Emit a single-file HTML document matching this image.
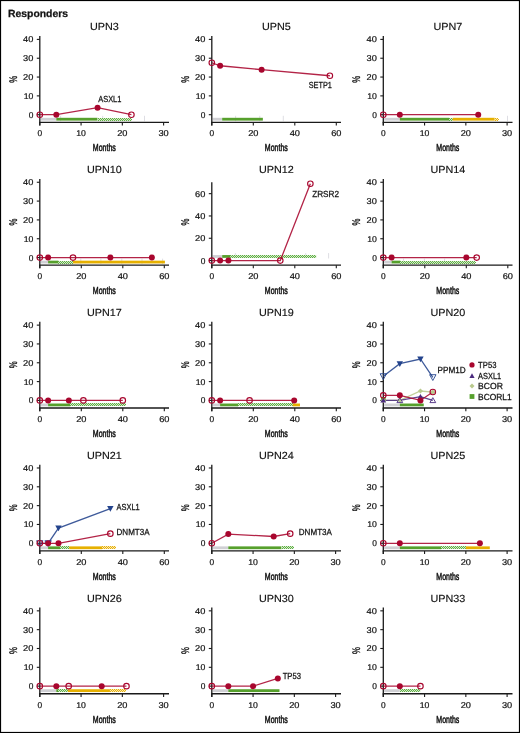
<!DOCTYPE html>
<html><head><meta charset="utf-8"><style>
html,body{margin:0;padding:0;background:#fff;}
body{width:520px;height:733px;overflow:hidden;}
svg{display:block;will-change:transform;}
text{font-family:"Liberation Sans",sans-serif;fill:#111;stroke:#111;stroke-width:0.25px;text-rendering:geometricPrecision;}
.t{font-size:10.3px;stroke-width:0.15px;}
.n{font-size:8.4px;stroke-width:0.2px;}
.l{font-size:8.8px;}
.m{font-size:10.3px;stroke-width:0.5px;}
.pct{font-size:11px;stroke-width:0.4px;}
.h{font-size:10.4px;font-weight:bold;}
</style></head><body>
<svg width="520" height="733" viewBox="0 0 520 733">
<defs>
<pattern id="hg" patternUnits="userSpaceOnUse" width="2.1" height="3" y="0.2">
<rect width="2.1" height="3" fill="#eef7ea"/>
<path d="M0,0 L2.1,3 M2.1,0 L0,3" stroke="#62b04a" stroke-width="0.75" fill="none"/>
</pattern>
<pattern id="hy" patternUnits="userSpaceOnUse" width="2.1" height="3" y="0.2">
<rect width="2.1" height="3" fill="#fdf6e0"/>
<path d="M0,0 L2.1,3 M2.1,0 L0,3" stroke="#e6b000" stroke-width="0.75" fill="none"/>
</pattern>
</defs>
<rect x="0.5" y="0.5" width="519" height="732" fill="#fff" stroke="#000" stroke-width="1.2"/>
<text x="8" y="16.8" class="h">Responders</text>
<text x="104.4" y="30.3" class="t" text-anchor="middle" textLength="28.81" lengthAdjust="spacingAndGlyphs">UPN3</text>
<text transform="translate(16.8,79.2) rotate(-90)" class="pct" text-anchor="middle" textLength="6.9" lengthAdjust="spacingAndGlyphs">%</text>
<text x="104.3" y="151.4" class="m" text-anchor="middle" textLength="23" lengthAdjust="spacingAndGlyphs">Months</text>
<line x1="36.8" y1="114.7" x2="39.8" y2="114.7" stroke="#1a1a1a" stroke-width="1.1"/>
<text x="33.4" y="117.7" class="n" text-anchor="end">0</text>
<line x1="36.8" y1="95.88" x2="39.8" y2="95.88" stroke="#1a1a1a" stroke-width="1.1"/>
<text x="33.4" y="98.88" class="n" text-anchor="end" textLength="9.7" lengthAdjust="spacingAndGlyphs">10</text>
<line x1="36.8" y1="77.05" x2="39.8" y2="77.05" stroke="#1a1a1a" stroke-width="1.1"/>
<text x="33.4" y="80.05" class="n" text-anchor="end" textLength="10.3" lengthAdjust="spacingAndGlyphs">20</text>
<line x1="36.8" y1="58.23" x2="39.8" y2="58.23" stroke="#1a1a1a" stroke-width="1.1"/>
<text x="33.4" y="61.23" class="n" text-anchor="end" textLength="10.3" lengthAdjust="spacingAndGlyphs">30</text>
<line x1="36.8" y1="39.4" x2="39.8" y2="39.4" stroke="#1a1a1a" stroke-width="1.1"/>
<text x="33.4" y="42.4" class="n" text-anchor="end" textLength="10.3" lengthAdjust="spacingAndGlyphs">40</text>
<line x1="39.8" y1="122.3" x2="39.8" y2="125.5" stroke="#1a1a1a" stroke-width="1.1"/>
<text x="39.8" y="136.4" class="n" text-anchor="middle">0</text>
<line x1="81.07" y1="122.3" x2="81.07" y2="125.5" stroke="#1a1a1a" stroke-width="1.1"/>
<text x="81.07" y="136.4" class="n" text-anchor="middle" textLength="9.7" lengthAdjust="spacingAndGlyphs">10</text>
<line x1="122.34" y1="122.3" x2="122.34" y2="125.5" stroke="#1a1a1a" stroke-width="1.1"/>
<text x="122.34" y="136.4" class="n" text-anchor="middle" textLength="10.3" lengthAdjust="spacingAndGlyphs">20</text>
<line x1="163.61" y1="122.3" x2="163.61" y2="125.5" stroke="#1a1a1a" stroke-width="1.1"/>
<text x="163.61" y="136.4" class="n" text-anchor="middle" textLength="10.3" lengthAdjust="spacingAndGlyphs">30</text>
<line x1="60.6" y1="115.8" x2="60.6" y2="121.2" stroke="#d0d0d8" stroke-width="0.7"/>
<line x1="102.7" y1="115.8" x2="102.7" y2="121.2" stroke="#d0d0d8" stroke-width="0.7"/>
<line x1="144.5" y1="115.8" x2="144.5" y2="121.2" stroke="#d0d0d8" stroke-width="0.7"/>
<rect x="40.7" y="117.8" width="15.61" height="2.8" fill="#d0d0d4"/>
<rect x="56.31" y="117.8" width="41.27" height="2.8" fill="#56a02c"/>
<rect x="97.58" y="118" width="33.84" height="3" fill="#d4ebc9"/>
<path d="M98,118h1v1h-1zM99,119h1v1h-1zM98,120h1v1h-1zM100,118h1v1h-1zM101,119h1v1h-1zM100,120h1v1h-1zM102,118h1v1h-1zM103,119h1v1h-1zM102,120h1v1h-1zM104,118h1v1h-1zM105,119h1v1h-1zM104,120h1v1h-1zM106,118h1v1h-1zM107,119h1v1h-1zM106,120h1v1h-1zM108,118h1v1h-1zM109,119h1v1h-1zM108,120h1v1h-1zM110,118h1v1h-1zM111,119h1v1h-1zM110,120h1v1h-1zM112,118h1v1h-1zM113,119h1v1h-1zM112,120h1v1h-1zM114,118h1v1h-1zM115,119h1v1h-1zM114,120h1v1h-1zM116,118h1v1h-1zM117,119h1v1h-1zM116,120h1v1h-1zM118,118h1v1h-1zM119,119h1v1h-1zM118,120h1v1h-1zM120,118h1v1h-1zM121,119h1v1h-1zM120,120h1v1h-1zM122,118h1v1h-1zM123,119h1v1h-1zM122,120h1v1h-1zM124,118h1v1h-1zM125,119h1v1h-1zM124,120h1v1h-1zM126,118h1v1h-1zM127,119h1v1h-1zM126,120h1v1h-1zM128,118h1v1h-1zM129,119h1v1h-1zM128,120h1v1h-1zM130,118h1v1h-1zM131,119h1v1h-1zM130,120h1v1h-1z" fill="#5fae45"/>
<line x1="39.8" y1="36.1" x2="39.8" y2="125.5" stroke="#1a1a1a" stroke-width="1.3"/>
<line x1="39.2" y1="122.3" x2="169" y2="122.3" stroke="#1a1a1a" stroke-width="1.3"/>
<polyline points="39.8,114.7 56.31,114.7 97.58,107.73 131.42,114.7" fill="none" stroke="#a8062e" stroke-width="1.3" opacity="0.88"/>
<circle cx="39.8" cy="114.7" r="2.75" fill="none" stroke="#a8062e" stroke-width="1.15"/>
<circle cx="56.31" cy="114.7" r="3.0" fill="#a8062e"/>
<circle cx="97.58" cy="107.73" r="3.0" fill="#a8062e"/>
<circle cx="131.42" cy="114.7" r="2.75" fill="none" stroke="#a8062e" stroke-width="1.15"/>
<text x="109.8" y="101.6" class="l" text-anchor="middle" textLength="23.15" lengthAdjust="spacingAndGlyphs">ASXL1</text>
<text x="276.4" y="30.3" class="t" text-anchor="middle" textLength="28.81" lengthAdjust="spacingAndGlyphs">UPN5</text>
<text transform="translate(188.8,79.2) rotate(-90)" class="pct" text-anchor="middle" textLength="6.9" lengthAdjust="spacingAndGlyphs">%</text>
<text x="276.3" y="151.4" class="m" text-anchor="middle" textLength="23" lengthAdjust="spacingAndGlyphs">Months</text>
<line x1="208.8" y1="114.7" x2="211.8" y2="114.7" stroke="#1a1a1a" stroke-width="1.1"/>
<text x="205.4" y="117.7" class="n" text-anchor="end">0</text>
<line x1="208.8" y1="95.88" x2="211.8" y2="95.88" stroke="#1a1a1a" stroke-width="1.1"/>
<text x="205.4" y="98.88" class="n" text-anchor="end" textLength="9.7" lengthAdjust="spacingAndGlyphs">10</text>
<line x1="208.8" y1="77.05" x2="211.8" y2="77.05" stroke="#1a1a1a" stroke-width="1.1"/>
<text x="205.4" y="80.05" class="n" text-anchor="end" textLength="10.3" lengthAdjust="spacingAndGlyphs">20</text>
<line x1="208.8" y1="58.23" x2="211.8" y2="58.23" stroke="#1a1a1a" stroke-width="1.1"/>
<text x="205.4" y="61.23" class="n" text-anchor="end" textLength="10.3" lengthAdjust="spacingAndGlyphs">30</text>
<line x1="208.8" y1="39.4" x2="211.8" y2="39.4" stroke="#1a1a1a" stroke-width="1.1"/>
<text x="205.4" y="42.4" class="n" text-anchor="end" textLength="10.3" lengthAdjust="spacingAndGlyphs">40</text>
<line x1="211.8" y1="122.3" x2="211.8" y2="125.5" stroke="#1a1a1a" stroke-width="1.1"/>
<text x="211.8" y="136.4" class="n" text-anchor="middle">0</text>
<line x1="253.3" y1="122.3" x2="253.3" y2="125.5" stroke="#1a1a1a" stroke-width="1.1"/>
<text x="253.3" y="136.4" class="n" text-anchor="middle" textLength="10.3" lengthAdjust="spacingAndGlyphs">20</text>
<line x1="294.8" y1="122.3" x2="294.8" y2="125.5" stroke="#1a1a1a" stroke-width="1.1"/>
<text x="294.8" y="136.4" class="n" text-anchor="middle" textLength="10.3" lengthAdjust="spacingAndGlyphs">40</text>
<line x1="336.3" y1="122.3" x2="336.3" y2="125.5" stroke="#1a1a1a" stroke-width="1.1"/>
<text x="336.3" y="136.4" class="n" text-anchor="middle" textLength="10.3" lengthAdjust="spacingAndGlyphs">60</text>
<line x1="235.6" y1="115.8" x2="235.6" y2="121.2" stroke="#d0d0d8" stroke-width="0.7"/>
<line x1="259.8" y1="115.8" x2="259.8" y2="121.2" stroke="#d0d0d8" stroke-width="0.7"/>
<line x1="283.3" y1="115.8" x2="283.3" y2="121.2" stroke="#d0d0d8" stroke-width="0.7"/>
<rect x="212.7" y="117.8" width="9.47" height="2.8" fill="#d0d0d4"/>
<rect x="222.18" y="117.8" width="40.67" height="2.8" fill="#56a02c"/>
<line x1="211.8" y1="36.1" x2="211.8" y2="125.5" stroke="#1a1a1a" stroke-width="1.3"/>
<line x1="211.2" y1="122.3" x2="341" y2="122.3" stroke="#1a1a1a" stroke-width="1.3"/>
<polyline points="211.8,62.74 220.1,65.75 261.6,69.71 329.87,75.73" fill="none" stroke="#a8062e" stroke-width="1.3" opacity="0.88"/>
<circle cx="211.8" cy="62.74" r="2.75" fill="none" stroke="#a8062e" stroke-width="1.15"/>
<circle cx="220.1" cy="65.75" r="3.0" fill="#a8062e"/>
<circle cx="261.6" cy="69.71" r="3.0" fill="#a8062e"/>
<circle cx="329.87" cy="75.73" r="2.75" fill="none" stroke="#a8062e" stroke-width="1.15"/>
<text x="320.3" y="87.8" class="l" text-anchor="middle" textLength="23.14" lengthAdjust="spacingAndGlyphs">SETP1</text>
<text x="447.9" y="30.3" class="t" text-anchor="middle" textLength="28.81" lengthAdjust="spacingAndGlyphs">UPN7</text>
<text transform="translate(360.3,79.2) rotate(-90)" class="pct" text-anchor="middle" textLength="6.9" lengthAdjust="spacingAndGlyphs">%</text>
<text x="447.8" y="151.4" class="m" text-anchor="middle" textLength="23" lengthAdjust="spacingAndGlyphs">Months</text>
<line x1="380.3" y1="114.7" x2="383.3" y2="114.7" stroke="#1a1a1a" stroke-width="1.1"/>
<text x="376.9" y="117.7" class="n" text-anchor="end">0</text>
<line x1="380.3" y1="95.88" x2="383.3" y2="95.88" stroke="#1a1a1a" stroke-width="1.1"/>
<text x="376.9" y="98.88" class="n" text-anchor="end" textLength="9.7" lengthAdjust="spacingAndGlyphs">10</text>
<line x1="380.3" y1="77.05" x2="383.3" y2="77.05" stroke="#1a1a1a" stroke-width="1.1"/>
<text x="376.9" y="80.05" class="n" text-anchor="end" textLength="10.3" lengthAdjust="spacingAndGlyphs">20</text>
<line x1="380.3" y1="58.23" x2="383.3" y2="58.23" stroke="#1a1a1a" stroke-width="1.1"/>
<text x="376.9" y="61.23" class="n" text-anchor="end" textLength="10.3" lengthAdjust="spacingAndGlyphs">30</text>
<line x1="380.3" y1="39.4" x2="383.3" y2="39.4" stroke="#1a1a1a" stroke-width="1.1"/>
<text x="376.9" y="42.4" class="n" text-anchor="end" textLength="10.3" lengthAdjust="spacingAndGlyphs">40</text>
<line x1="383.3" y1="122.3" x2="383.3" y2="125.5" stroke="#1a1a1a" stroke-width="1.1"/>
<text x="383.3" y="136.4" class="n" text-anchor="middle">0</text>
<line x1="424.57" y1="122.3" x2="424.57" y2="125.5" stroke="#1a1a1a" stroke-width="1.1"/>
<text x="424.57" y="136.4" class="n" text-anchor="middle" textLength="9.7" lengthAdjust="spacingAndGlyphs">10</text>
<line x1="465.84" y1="122.3" x2="465.84" y2="125.5" stroke="#1a1a1a" stroke-width="1.1"/>
<text x="465.84" y="136.4" class="n" text-anchor="middle" textLength="10.3" lengthAdjust="spacingAndGlyphs">20</text>
<line x1="507.11" y1="122.3" x2="507.11" y2="125.5" stroke="#1a1a1a" stroke-width="1.1"/>
<text x="507.11" y="136.4" class="n" text-anchor="middle" textLength="10.3" lengthAdjust="spacingAndGlyphs">30</text>
<line x1="507.5" y1="115.8" x2="507.5" y2="121.2" stroke="#d0d0d8" stroke-width="0.7"/>
<rect x="384.2" y="117.8" width="15.61" height="2.8" fill="#d0d0d4"/>
<rect x="399.81" y="117.8" width="49.52" height="2.8" fill="#56a02c"/>
<rect x="449.33" y="118" width="3.3" height="3" fill="#d4ebc9"/>
<path d="M449,118h1v1h-1zM450,119h1v1h-1zM449,120h1v1h-1zM451,118h1v1h-1zM452,119h1v1h-1zM451,120h1v1h-1z" fill="#5fae45"/>
<rect x="452.63" y="117.8" width="42.1" height="2.8" fill="#e6b000"/>
<rect x="494.73" y="118" width="2.89" height="3" fill="#f8e7b0"/>
<path d="M495,118h1v1h-1zM496,119h1v1h-1zM495,120h1v1h-1zM497,118h1v1h-1zM498,119h1v1h-1zM497,120h1v1h-1z" fill="#e8b10a"/>
<line x1="383.3" y1="36.1" x2="383.3" y2="125.5" stroke="#1a1a1a" stroke-width="1.3"/>
<line x1="382.7" y1="122.3" x2="512.5" y2="122.3" stroke="#1a1a1a" stroke-width="1.3"/>
<polyline points="383.3,114.7 399.81,114.7 478.22,114.7" fill="none" stroke="#a8062e" stroke-width="1.3" opacity="0.88"/>
<circle cx="383.3" cy="114.7" r="2.75" fill="none" stroke="#a8062e" stroke-width="1.15"/>
<circle cx="399.81" cy="114.7" r="3.0" fill="#a8062e"/>
<circle cx="478.22" cy="114.7" r="3.0" fill="#a8062e"/>
<text x="104.4" y="173.16" class="t" text-anchor="middle" textLength="34.82" lengthAdjust="spacingAndGlyphs">UPN10</text>
<text transform="translate(16.8,222.06) rotate(-90)" class="pct" text-anchor="middle" textLength="6.9" lengthAdjust="spacingAndGlyphs">%</text>
<text x="104.3" y="294.26" class="m" text-anchor="middle" textLength="23" lengthAdjust="spacingAndGlyphs">Months</text>
<line x1="36.8" y1="257.56" x2="39.8" y2="257.56" stroke="#1a1a1a" stroke-width="1.1"/>
<text x="33.4" y="260.56" class="n" text-anchor="end">0</text>
<line x1="36.8" y1="238.74" x2="39.8" y2="238.74" stroke="#1a1a1a" stroke-width="1.1"/>
<text x="33.4" y="241.74" class="n" text-anchor="end" textLength="9.7" lengthAdjust="spacingAndGlyphs">10</text>
<line x1="36.8" y1="219.91" x2="39.8" y2="219.91" stroke="#1a1a1a" stroke-width="1.1"/>
<text x="33.4" y="222.91" class="n" text-anchor="end" textLength="10.3" lengthAdjust="spacingAndGlyphs">20</text>
<line x1="36.8" y1="201.09" x2="39.8" y2="201.09" stroke="#1a1a1a" stroke-width="1.1"/>
<text x="33.4" y="204.09" class="n" text-anchor="end" textLength="10.3" lengthAdjust="spacingAndGlyphs">30</text>
<line x1="36.8" y1="182.26" x2="39.8" y2="182.26" stroke="#1a1a1a" stroke-width="1.1"/>
<text x="33.4" y="185.26" class="n" text-anchor="end" textLength="10.3" lengthAdjust="spacingAndGlyphs">40</text>
<line x1="39.8" y1="265.16" x2="39.8" y2="268.36" stroke="#1a1a1a" stroke-width="1.1"/>
<text x="39.8" y="279.26" class="n" text-anchor="middle">0</text>
<line x1="81.3" y1="265.16" x2="81.3" y2="268.36" stroke="#1a1a1a" stroke-width="1.1"/>
<text x="81.3" y="279.26" class="n" text-anchor="middle" textLength="10.3" lengthAdjust="spacingAndGlyphs">20</text>
<line x1="122.8" y1="265.16" x2="122.8" y2="268.36" stroke="#1a1a1a" stroke-width="1.1"/>
<text x="122.8" y="279.26" class="n" text-anchor="middle" textLength="10.3" lengthAdjust="spacingAndGlyphs">40</text>
<line x1="164.3" y1="265.16" x2="164.3" y2="268.36" stroke="#1a1a1a" stroke-width="1.1"/>
<text x="164.3" y="279.26" class="n" text-anchor="middle" textLength="10.3" lengthAdjust="spacingAndGlyphs">60</text>
<line x1="80.8" y1="258.66" x2="80.8" y2="264.06" stroke="#d0d0d8" stroke-width="0.7"/>
<line x1="100.9" y1="258.66" x2="100.9" y2="264.06" stroke="#d0d0d8" stroke-width="0.7"/>
<line x1="121.8" y1="258.66" x2="121.8" y2="264.06" stroke="#d0d0d8" stroke-width="0.7"/>
<line x1="142" y1="258.66" x2="142" y2="264.06" stroke="#d0d0d8" stroke-width="0.7"/>
<line x1="162.6" y1="258.66" x2="162.6" y2="264.06" stroke="#d0d0d8" stroke-width="0.7"/>
<rect x="40.7" y="260.66" width="7.4" height="2.8" fill="#d0d0d4"/>
<rect x="48.1" y="260.66" width="10.38" height="2.8" fill="#56a02c"/>
<rect x="58.47" y="261" width="14.53" height="3" fill="#d4ebc9"/>
<path d="M58,261h1v1h-1zM59,262h1v1h-1zM58,263h1v1h-1zM60,261h1v1h-1zM61,262h1v1h-1zM60,263h1v1h-1zM62,261h1v1h-1zM63,262h1v1h-1zM62,263h1v1h-1zM64,261h1v1h-1zM65,262h1v1h-1zM64,263h1v1h-1zM66,261h1v1h-1zM67,262h1v1h-1zM66,263h1v1h-1zM68,261h1v1h-1zM69,262h1v1h-1zM68,263h1v1h-1zM70,261h1v1h-1zM71,262h1v1h-1zM70,263h1v1h-1zM72,261h1v1h-1zM73,262h1v1h-1zM72,263h1v1h-1z" fill="#5fae45"/>
<rect x="73" y="260.66" width="91.92" height="2.8" fill="#e6b000"/>
<line x1="39.8" y1="178.96" x2="39.8" y2="268.36" stroke="#1a1a1a" stroke-width="1.3"/>
<line x1="39.2" y1="265.16" x2="169" y2="265.16" stroke="#1a1a1a" stroke-width="1.3"/>
<polyline points="39.8,257.56 48.1,257.56 73,257.56 110.35,257.56 151.85,257.56" fill="none" stroke="#a8062e" stroke-width="1.3" opacity="0.88"/>
<circle cx="39.8" cy="257.56" r="2.75" fill="none" stroke="#a8062e" stroke-width="1.15"/>
<circle cx="48.1" cy="257.56" r="3.0" fill="#a8062e"/>
<circle cx="73" cy="257.56" r="2.75" fill="none" stroke="#a8062e" stroke-width="1.15"/>
<circle cx="110.35" cy="257.56" r="3.0" fill="#a8062e"/>
<circle cx="151.85" cy="257.56" r="3.0" fill="#a8062e"/>
<text x="276.4" y="173.16" class="t" text-anchor="middle" textLength="34.82" lengthAdjust="spacingAndGlyphs">UPN12</text>
<text transform="translate(188.8,222.06) rotate(-90)" class="pct" text-anchor="middle" textLength="6.9" lengthAdjust="spacingAndGlyphs">%</text>
<text x="276.3" y="294.26" class="m" text-anchor="middle" textLength="23" lengthAdjust="spacingAndGlyphs">Months</text>
<line x1="208.8" y1="260.56" x2="211.8" y2="260.56" stroke="#1a1a1a" stroke-width="1.1"/>
<text x="205.4" y="263.56" class="n" text-anchor="end">0</text>
<line x1="208.8" y1="238.26" x2="211.8" y2="238.26" stroke="#1a1a1a" stroke-width="1.1"/>
<text x="205.4" y="241.26" class="n" text-anchor="end" textLength="10.3" lengthAdjust="spacingAndGlyphs">20</text>
<line x1="208.8" y1="215.96" x2="211.8" y2="215.96" stroke="#1a1a1a" stroke-width="1.1"/>
<text x="205.4" y="218.96" class="n" text-anchor="end" textLength="10.3" lengthAdjust="spacingAndGlyphs">40</text>
<line x1="208.8" y1="193.66" x2="211.8" y2="193.66" stroke="#1a1a1a" stroke-width="1.1"/>
<text x="205.4" y="196.66" class="n" text-anchor="end" textLength="10.3" lengthAdjust="spacingAndGlyphs">60</text>
<line x1="211.8" y1="265.16" x2="211.8" y2="268.36" stroke="#1a1a1a" stroke-width="1.1"/>
<text x="211.8" y="279.26" class="n" text-anchor="middle">0</text>
<line x1="253.3" y1="265.16" x2="253.3" y2="268.36" stroke="#1a1a1a" stroke-width="1.1"/>
<text x="253.3" y="279.26" class="n" text-anchor="middle" textLength="10.3" lengthAdjust="spacingAndGlyphs">20</text>
<line x1="294.8" y1="265.16" x2="294.8" y2="268.36" stroke="#1a1a1a" stroke-width="1.1"/>
<text x="294.8" y="279.26" class="n" text-anchor="middle" textLength="10.3" lengthAdjust="spacingAndGlyphs">40</text>
<line x1="336.3" y1="265.16" x2="336.3" y2="268.36" stroke="#1a1a1a" stroke-width="1.1"/>
<text x="336.3" y="279.26" class="n" text-anchor="middle" textLength="10.3" lengthAdjust="spacingAndGlyphs">60</text>
<line x1="235.4" y1="253.06" x2="235.4" y2="258.46" stroke="#d0d0d8" stroke-width="0.7"/>
<line x1="305.7" y1="253.06" x2="305.7" y2="258.46" stroke="#d0d0d8" stroke-width="0.7"/>
<line x1="328.6" y1="253.06" x2="328.6" y2="258.46" stroke="#d0d0d8" stroke-width="0.7"/>
<rect x="212.7" y="255.06" width="9.47" height="2.8" fill="#d0d0d4"/>
<rect x="222.18" y="255.06" width="8.3" height="2.8" fill="#56a02c"/>
<rect x="230.48" y="255" width="85.9" height="3" fill="#d4ebc9"/>
<path d="M230,255h1v1h-1zM231,256h1v1h-1zM230,257h1v1h-1zM232,255h1v1h-1zM233,256h1v1h-1zM232,257h1v1h-1zM234,255h1v1h-1zM235,256h1v1h-1zM234,257h1v1h-1zM236,255h1v1h-1zM237,256h1v1h-1zM236,257h1v1h-1zM238,255h1v1h-1zM239,256h1v1h-1zM238,257h1v1h-1zM240,255h1v1h-1zM241,256h1v1h-1zM240,257h1v1h-1zM242,255h1v1h-1zM243,256h1v1h-1zM242,257h1v1h-1zM244,255h1v1h-1zM245,256h1v1h-1zM244,257h1v1h-1zM246,255h1v1h-1zM247,256h1v1h-1zM246,257h1v1h-1zM248,255h1v1h-1zM249,256h1v1h-1zM248,257h1v1h-1zM250,255h1v1h-1zM251,256h1v1h-1zM250,257h1v1h-1zM252,255h1v1h-1zM253,256h1v1h-1zM252,257h1v1h-1zM254,255h1v1h-1zM255,256h1v1h-1zM254,257h1v1h-1zM256,255h1v1h-1zM257,256h1v1h-1zM256,257h1v1h-1zM258,255h1v1h-1zM259,256h1v1h-1zM258,257h1v1h-1zM260,255h1v1h-1zM261,256h1v1h-1zM260,257h1v1h-1zM262,255h1v1h-1zM263,256h1v1h-1zM262,257h1v1h-1zM264,255h1v1h-1zM265,256h1v1h-1zM264,257h1v1h-1zM266,255h1v1h-1zM267,256h1v1h-1zM266,257h1v1h-1zM268,255h1v1h-1zM269,256h1v1h-1zM268,257h1v1h-1zM270,255h1v1h-1zM271,256h1v1h-1zM270,257h1v1h-1zM272,255h1v1h-1zM273,256h1v1h-1zM272,257h1v1h-1zM274,255h1v1h-1zM275,256h1v1h-1zM274,257h1v1h-1zM276,255h1v1h-1zM277,256h1v1h-1zM276,257h1v1h-1zM278,255h1v1h-1zM279,256h1v1h-1zM278,257h1v1h-1zM280,255h1v1h-1zM281,256h1v1h-1zM280,257h1v1h-1zM282,255h1v1h-1zM283,256h1v1h-1zM282,257h1v1h-1zM284,255h1v1h-1zM285,256h1v1h-1zM284,257h1v1h-1zM286,255h1v1h-1zM287,256h1v1h-1zM286,257h1v1h-1zM288,255h1v1h-1zM289,256h1v1h-1zM288,257h1v1h-1zM290,255h1v1h-1zM291,256h1v1h-1zM290,257h1v1h-1zM292,255h1v1h-1zM293,256h1v1h-1zM292,257h1v1h-1zM294,255h1v1h-1zM295,256h1v1h-1zM294,257h1v1h-1zM296,255h1v1h-1zM297,256h1v1h-1zM296,257h1v1h-1zM298,255h1v1h-1zM299,256h1v1h-1zM298,257h1v1h-1zM300,255h1v1h-1zM301,256h1v1h-1zM300,257h1v1h-1zM302,255h1v1h-1zM303,256h1v1h-1zM302,257h1v1h-1zM304,255h1v1h-1zM305,256h1v1h-1zM304,257h1v1h-1zM306,255h1v1h-1zM307,256h1v1h-1zM306,257h1v1h-1zM308,255h1v1h-1zM309,256h1v1h-1zM308,257h1v1h-1zM310,255h1v1h-1zM311,256h1v1h-1zM310,257h1v1h-1zM312,255h1v1h-1zM313,256h1v1h-1zM312,257h1v1h-1zM314,255h1v1h-1zM315,256h1v1h-1zM314,257h1v1h-1z" fill="#5fae45"/>
<line x1="211.8" y1="182.36" x2="211.8" y2="268.36" stroke="#1a1a1a" stroke-width="1.3"/>
<line x1="211.2" y1="265.16" x2="341" y2="265.16" stroke="#1a1a1a" stroke-width="1.3"/>
<polyline points="211.8,260.56 220.1,260.56 228.4,260.56 280.28,260.56 310.36,183.74" fill="none" stroke="#a8062e" stroke-width="1.3" opacity="0.88"/>
<circle cx="211.8" cy="260.56" r="2.75" fill="none" stroke="#a8062e" stroke-width="1.15"/>
<circle cx="220.1" cy="260.56" r="3.0" fill="#a8062e"/>
<circle cx="228.4" cy="260.56" r="3.0" fill="#a8062e"/>
<circle cx="280.28" cy="260.56" r="2.75" fill="none" stroke="#a8062e" stroke-width="1.15"/>
<circle cx="310.36" cy="183.74" r="2.75" fill="none" stroke="#a8062e" stroke-width="1.15"/>
<text x="325.6" y="196.8" class="l" text-anchor="middle" textLength="26.83" lengthAdjust="spacingAndGlyphs">ZRSR2</text>
<text x="447.9" y="173.16" class="t" text-anchor="middle" textLength="34.82" lengthAdjust="spacingAndGlyphs">UPN14</text>
<text transform="translate(360.3,222.06) rotate(-90)" class="pct" text-anchor="middle" textLength="6.9" lengthAdjust="spacingAndGlyphs">%</text>
<text x="447.8" y="294.26" class="m" text-anchor="middle" textLength="23" lengthAdjust="spacingAndGlyphs">Months</text>
<line x1="380.3" y1="257.56" x2="383.3" y2="257.56" stroke="#1a1a1a" stroke-width="1.1"/>
<text x="376.9" y="260.56" class="n" text-anchor="end">0</text>
<line x1="380.3" y1="238.74" x2="383.3" y2="238.74" stroke="#1a1a1a" stroke-width="1.1"/>
<text x="376.9" y="241.74" class="n" text-anchor="end" textLength="9.7" lengthAdjust="spacingAndGlyphs">10</text>
<line x1="380.3" y1="219.91" x2="383.3" y2="219.91" stroke="#1a1a1a" stroke-width="1.1"/>
<text x="376.9" y="222.91" class="n" text-anchor="end" textLength="10.3" lengthAdjust="spacingAndGlyphs">20</text>
<line x1="380.3" y1="201.09" x2="383.3" y2="201.09" stroke="#1a1a1a" stroke-width="1.1"/>
<text x="376.9" y="204.09" class="n" text-anchor="end" textLength="10.3" lengthAdjust="spacingAndGlyphs">30</text>
<line x1="380.3" y1="182.26" x2="383.3" y2="182.26" stroke="#1a1a1a" stroke-width="1.1"/>
<text x="376.9" y="185.26" class="n" text-anchor="end" textLength="10.3" lengthAdjust="spacingAndGlyphs">40</text>
<line x1="383.3" y1="265.16" x2="383.3" y2="268.36" stroke="#1a1a1a" stroke-width="1.1"/>
<text x="383.3" y="279.26" class="n" text-anchor="middle">0</text>
<line x1="424.8" y1="265.16" x2="424.8" y2="268.36" stroke="#1a1a1a" stroke-width="1.1"/>
<text x="424.8" y="279.26" class="n" text-anchor="middle" textLength="10.3" lengthAdjust="spacingAndGlyphs">20</text>
<line x1="466.3" y1="265.16" x2="466.3" y2="268.36" stroke="#1a1a1a" stroke-width="1.1"/>
<text x="466.3" y="279.26" class="n" text-anchor="middle" textLength="10.3" lengthAdjust="spacingAndGlyphs">40</text>
<line x1="507.8" y1="265.16" x2="507.8" y2="268.36" stroke="#1a1a1a" stroke-width="1.1"/>
<text x="507.8" y="279.26" class="n" text-anchor="middle" textLength="10.3" lengthAdjust="spacingAndGlyphs">60</text>
<line x1="403.5" y1="258.66" x2="403.5" y2="264.06" stroke="#d0d0d8" stroke-width="0.7"/>
<line x1="424.4" y1="258.66" x2="424.4" y2="264.06" stroke="#d0d0d8" stroke-width="0.7"/>
<line x1="444.6" y1="258.66" x2="444.6" y2="264.06" stroke="#d0d0d8" stroke-width="0.7"/>
<rect x="384.2" y="260.66" width="7.4" height="2.8" fill="#d0d0d4"/>
<rect x="391.6" y="260.66" width="8.71" height="2.8" fill="#56a02c"/>
<rect x="400.31" y="261" width="74.7" height="3" fill="#d4ebc9"/>
<path d="M400,261h1v1h-1zM401,262h1v1h-1zM400,263h1v1h-1zM402,261h1v1h-1zM403,262h1v1h-1zM402,263h1v1h-1zM404,261h1v1h-1zM405,262h1v1h-1zM404,263h1v1h-1zM406,261h1v1h-1zM407,262h1v1h-1zM406,263h1v1h-1zM408,261h1v1h-1zM409,262h1v1h-1zM408,263h1v1h-1zM410,261h1v1h-1zM411,262h1v1h-1zM410,263h1v1h-1zM412,261h1v1h-1zM413,262h1v1h-1zM412,263h1v1h-1zM414,261h1v1h-1zM415,262h1v1h-1zM414,263h1v1h-1zM416,261h1v1h-1zM417,262h1v1h-1zM416,263h1v1h-1zM418,261h1v1h-1zM419,262h1v1h-1zM418,263h1v1h-1zM420,261h1v1h-1zM421,262h1v1h-1zM420,263h1v1h-1zM422,261h1v1h-1zM423,262h1v1h-1zM422,263h1v1h-1zM424,261h1v1h-1zM425,262h1v1h-1zM424,263h1v1h-1zM426,261h1v1h-1zM427,262h1v1h-1zM426,263h1v1h-1zM428,261h1v1h-1zM429,262h1v1h-1zM428,263h1v1h-1zM430,261h1v1h-1zM431,262h1v1h-1zM430,263h1v1h-1zM432,261h1v1h-1zM433,262h1v1h-1zM432,263h1v1h-1zM434,261h1v1h-1zM435,262h1v1h-1zM434,263h1v1h-1zM436,261h1v1h-1zM437,262h1v1h-1zM436,263h1v1h-1zM438,261h1v1h-1zM439,262h1v1h-1zM438,263h1v1h-1zM440,261h1v1h-1zM441,262h1v1h-1zM440,263h1v1h-1zM442,261h1v1h-1zM443,262h1v1h-1zM442,263h1v1h-1zM444,261h1v1h-1zM445,262h1v1h-1zM444,263h1v1h-1zM446,261h1v1h-1zM447,262h1v1h-1zM446,263h1v1h-1zM448,261h1v1h-1zM449,262h1v1h-1zM448,263h1v1h-1zM450,261h1v1h-1zM451,262h1v1h-1zM450,263h1v1h-1zM452,261h1v1h-1zM453,262h1v1h-1zM452,263h1v1h-1zM454,261h1v1h-1zM455,262h1v1h-1zM454,263h1v1h-1zM456,261h1v1h-1zM457,262h1v1h-1zM456,263h1v1h-1zM458,261h1v1h-1zM459,262h1v1h-1zM458,263h1v1h-1zM460,261h1v1h-1zM461,262h1v1h-1zM460,263h1v1h-1zM462,261h1v1h-1zM463,262h1v1h-1zM462,263h1v1h-1zM464,261h1v1h-1zM465,262h1v1h-1zM464,263h1v1h-1zM466,261h1v1h-1zM467,262h1v1h-1zM466,263h1v1h-1zM468,261h1v1h-1zM469,262h1v1h-1zM468,263h1v1h-1zM470,261h1v1h-1zM471,262h1v1h-1zM470,263h1v1h-1zM472,261h1v1h-1zM473,262h1v1h-1zM472,263h1v1h-1zM474,261h1v1h-1zM475,262h1v1h-1zM474,263h1v1h-1z" fill="#5fae45"/>
<line x1="383.3" y1="178.96" x2="383.3" y2="268.36" stroke="#1a1a1a" stroke-width="1.3"/>
<line x1="382.7" y1="265.16" x2="512.5" y2="265.16" stroke="#1a1a1a" stroke-width="1.3"/>
<polyline points="383.3,257.56 391.6,257.56 466.3,257.56 476.68,257.56" fill="none" stroke="#a8062e" stroke-width="1.3" opacity="0.88"/>
<circle cx="383.3" cy="257.56" r="2.75" fill="none" stroke="#a8062e" stroke-width="1.15"/>
<circle cx="391.6" cy="257.56" r="3.0" fill="#a8062e"/>
<circle cx="466.3" cy="257.56" r="3.0" fill="#a8062e"/>
<circle cx="476.68" cy="257.56" r="2.75" fill="none" stroke="#a8062e" stroke-width="1.15"/>
<text x="104.4" y="316.02" class="t" text-anchor="middle" textLength="34.82" lengthAdjust="spacingAndGlyphs">UPN17</text>
<text transform="translate(16.8,364.92) rotate(-90)" class="pct" text-anchor="middle" textLength="6.9" lengthAdjust="spacingAndGlyphs">%</text>
<text x="104.3" y="437.12" class="m" text-anchor="middle" textLength="23" lengthAdjust="spacingAndGlyphs">Months</text>
<line x1="36.8" y1="400.42" x2="39.8" y2="400.42" stroke="#1a1a1a" stroke-width="1.1"/>
<text x="33.4" y="403.42" class="n" text-anchor="end">0</text>
<line x1="36.8" y1="381.6" x2="39.8" y2="381.6" stroke="#1a1a1a" stroke-width="1.1"/>
<text x="33.4" y="384.6" class="n" text-anchor="end" textLength="9.7" lengthAdjust="spacingAndGlyphs">10</text>
<line x1="36.8" y1="362.77" x2="39.8" y2="362.77" stroke="#1a1a1a" stroke-width="1.1"/>
<text x="33.4" y="365.77" class="n" text-anchor="end" textLength="10.3" lengthAdjust="spacingAndGlyphs">20</text>
<line x1="36.8" y1="343.94" x2="39.8" y2="343.94" stroke="#1a1a1a" stroke-width="1.1"/>
<text x="33.4" y="346.94" class="n" text-anchor="end" textLength="10.3" lengthAdjust="spacingAndGlyphs">30</text>
<line x1="36.8" y1="325.12" x2="39.8" y2="325.12" stroke="#1a1a1a" stroke-width="1.1"/>
<text x="33.4" y="328.12" class="n" text-anchor="end" textLength="10.3" lengthAdjust="spacingAndGlyphs">40</text>
<line x1="39.8" y1="408.02" x2="39.8" y2="411.22" stroke="#1a1a1a" stroke-width="1.1"/>
<text x="39.8" y="422.12" class="n" text-anchor="middle">0</text>
<line x1="81.3" y1="408.02" x2="81.3" y2="411.22" stroke="#1a1a1a" stroke-width="1.1"/>
<text x="81.3" y="422.12" class="n" text-anchor="middle" textLength="10.3" lengthAdjust="spacingAndGlyphs">20</text>
<line x1="122.8" y1="408.02" x2="122.8" y2="411.22" stroke="#1a1a1a" stroke-width="1.1"/>
<text x="122.8" y="422.12" class="n" text-anchor="middle" textLength="10.3" lengthAdjust="spacingAndGlyphs">40</text>
<line x1="164.3" y1="408.02" x2="164.3" y2="411.22" stroke="#1a1a1a" stroke-width="1.1"/>
<text x="164.3" y="422.12" class="n" text-anchor="middle" textLength="10.3" lengthAdjust="spacingAndGlyphs">60</text>
<rect x="40.7" y="403.52" width="7.4" height="2.8" fill="#d0d0d4"/>
<rect x="48.1" y="403.52" width="22.2" height="2.8" fill="#56a02c"/>
<rect x="70.3" y="403" width="55.2" height="3" fill="#d4ebc9"/>
<path d="M70,403h1v1h-1zM71,404h1v1h-1zM70,405h1v1h-1zM72,403h1v1h-1zM73,404h1v1h-1zM72,405h1v1h-1zM74,403h1v1h-1zM75,404h1v1h-1zM74,405h1v1h-1zM76,403h1v1h-1zM77,404h1v1h-1zM76,405h1v1h-1zM78,403h1v1h-1zM79,404h1v1h-1zM78,405h1v1h-1zM80,403h1v1h-1zM81,404h1v1h-1zM80,405h1v1h-1zM82,403h1v1h-1zM83,404h1v1h-1zM82,405h1v1h-1zM84,403h1v1h-1zM85,404h1v1h-1zM84,405h1v1h-1zM86,403h1v1h-1zM87,404h1v1h-1zM86,405h1v1h-1zM88,403h1v1h-1zM89,404h1v1h-1zM88,405h1v1h-1zM90,403h1v1h-1zM91,404h1v1h-1zM90,405h1v1h-1zM92,403h1v1h-1zM93,404h1v1h-1zM92,405h1v1h-1zM94,403h1v1h-1zM95,404h1v1h-1zM94,405h1v1h-1zM96,403h1v1h-1zM97,404h1v1h-1zM96,405h1v1h-1zM98,403h1v1h-1zM99,404h1v1h-1zM98,405h1v1h-1zM100,403h1v1h-1zM101,404h1v1h-1zM100,405h1v1h-1zM102,403h1v1h-1zM103,404h1v1h-1zM102,405h1v1h-1zM104,403h1v1h-1zM105,404h1v1h-1zM104,405h1v1h-1zM106,403h1v1h-1zM107,404h1v1h-1zM106,405h1v1h-1zM108,403h1v1h-1zM109,404h1v1h-1zM108,405h1v1h-1zM110,403h1v1h-1zM111,404h1v1h-1zM110,405h1v1h-1zM112,403h1v1h-1zM113,404h1v1h-1zM112,405h1v1h-1zM114,403h1v1h-1zM115,404h1v1h-1zM114,405h1v1h-1zM116,403h1v1h-1zM117,404h1v1h-1zM116,405h1v1h-1zM118,403h1v1h-1zM119,404h1v1h-1zM118,405h1v1h-1zM120,403h1v1h-1zM121,404h1v1h-1zM120,405h1v1h-1zM122,403h1v1h-1zM123,404h1v1h-1zM122,405h1v1h-1zM124,403h1v1h-1zM125,404h1v1h-1zM124,405h1v1h-1z" fill="#5fae45"/>
<line x1="39.8" y1="321.82" x2="39.8" y2="411.22" stroke="#1a1a1a" stroke-width="1.3"/>
<line x1="39.2" y1="408.02" x2="169" y2="408.02" stroke="#1a1a1a" stroke-width="1.3"/>
<polyline points="39.8,400.42 48.1,400.42 68.85,400.42 83.38,400.42 122.8,400.42" fill="none" stroke="#a8062e" stroke-width="1.3" opacity="0.88"/>
<circle cx="39.8" cy="400.42" r="2.75" fill="none" stroke="#a8062e" stroke-width="1.15"/>
<circle cx="48.1" cy="400.42" r="3.0" fill="#a8062e"/>
<circle cx="68.85" cy="400.42" r="3.0" fill="#a8062e"/>
<circle cx="83.38" cy="400.42" r="2.75" fill="none" stroke="#a8062e" stroke-width="1.15"/>
<circle cx="122.8" cy="400.42" r="2.75" fill="none" stroke="#a8062e" stroke-width="1.15"/>
<text x="276.4" y="316.02" class="t" text-anchor="middle" textLength="34.82" lengthAdjust="spacingAndGlyphs">UPN19</text>
<text transform="translate(188.8,364.92) rotate(-90)" class="pct" text-anchor="middle" textLength="6.9" lengthAdjust="spacingAndGlyphs">%</text>
<text x="276.3" y="437.12" class="m" text-anchor="middle" textLength="23" lengthAdjust="spacingAndGlyphs">Months</text>
<line x1="208.8" y1="400.42" x2="211.8" y2="400.42" stroke="#1a1a1a" stroke-width="1.1"/>
<text x="205.4" y="403.42" class="n" text-anchor="end">0</text>
<line x1="208.8" y1="381.6" x2="211.8" y2="381.6" stroke="#1a1a1a" stroke-width="1.1"/>
<text x="205.4" y="384.6" class="n" text-anchor="end" textLength="9.7" lengthAdjust="spacingAndGlyphs">10</text>
<line x1="208.8" y1="362.77" x2="211.8" y2="362.77" stroke="#1a1a1a" stroke-width="1.1"/>
<text x="205.4" y="365.77" class="n" text-anchor="end" textLength="10.3" lengthAdjust="spacingAndGlyphs">20</text>
<line x1="208.8" y1="343.94" x2="211.8" y2="343.94" stroke="#1a1a1a" stroke-width="1.1"/>
<text x="205.4" y="346.94" class="n" text-anchor="end" textLength="10.3" lengthAdjust="spacingAndGlyphs">30</text>
<line x1="208.8" y1="325.12" x2="211.8" y2="325.12" stroke="#1a1a1a" stroke-width="1.1"/>
<text x="205.4" y="328.12" class="n" text-anchor="end" textLength="10.3" lengthAdjust="spacingAndGlyphs">40</text>
<line x1="211.8" y1="408.02" x2="211.8" y2="411.22" stroke="#1a1a1a" stroke-width="1.1"/>
<text x="211.8" y="422.12" class="n" text-anchor="middle">0</text>
<line x1="253.3" y1="408.02" x2="253.3" y2="411.22" stroke="#1a1a1a" stroke-width="1.1"/>
<text x="253.3" y="422.12" class="n" text-anchor="middle" textLength="10.3" lengthAdjust="spacingAndGlyphs">20</text>
<line x1="294.8" y1="408.02" x2="294.8" y2="411.22" stroke="#1a1a1a" stroke-width="1.1"/>
<text x="294.8" y="422.12" class="n" text-anchor="middle" textLength="10.3" lengthAdjust="spacingAndGlyphs">40</text>
<line x1="336.3" y1="408.02" x2="336.3" y2="411.22" stroke="#1a1a1a" stroke-width="1.1"/>
<text x="336.3" y="422.12" class="n" text-anchor="middle" textLength="10.3" lengthAdjust="spacingAndGlyphs">60</text>
<rect x="212.7" y="403.52" width="7.4" height="2.8" fill="#d0d0d4"/>
<rect x="220.1" y="403.52" width="18.05" height="2.8" fill="#56a02c"/>
<rect x="238.15" y="403" width="54.57" height="3" fill="#d4ebc9"/>
<path d="M238,403h1v1h-1zM239,404h1v1h-1zM238,405h1v1h-1zM240,403h1v1h-1zM241,404h1v1h-1zM240,405h1v1h-1zM242,403h1v1h-1zM243,404h1v1h-1zM242,405h1v1h-1zM244,403h1v1h-1zM245,404h1v1h-1zM244,405h1v1h-1zM246,403h1v1h-1zM247,404h1v1h-1zM246,405h1v1h-1zM248,403h1v1h-1zM249,404h1v1h-1zM248,405h1v1h-1zM250,403h1v1h-1zM251,404h1v1h-1zM250,405h1v1h-1zM252,403h1v1h-1zM253,404h1v1h-1zM252,405h1v1h-1zM254,403h1v1h-1zM255,404h1v1h-1zM254,405h1v1h-1zM256,403h1v1h-1zM257,404h1v1h-1zM256,405h1v1h-1zM258,403h1v1h-1zM259,404h1v1h-1zM258,405h1v1h-1zM260,403h1v1h-1zM261,404h1v1h-1zM260,405h1v1h-1zM262,403h1v1h-1zM263,404h1v1h-1zM262,405h1v1h-1zM264,403h1v1h-1zM265,404h1v1h-1zM264,405h1v1h-1zM266,403h1v1h-1zM267,404h1v1h-1zM266,405h1v1h-1zM268,403h1v1h-1zM269,404h1v1h-1zM268,405h1v1h-1zM270,403h1v1h-1zM271,404h1v1h-1zM270,405h1v1h-1zM272,403h1v1h-1zM273,404h1v1h-1zM272,405h1v1h-1zM274,403h1v1h-1zM275,404h1v1h-1zM274,405h1v1h-1zM276,403h1v1h-1zM277,404h1v1h-1zM276,405h1v1h-1zM278,403h1v1h-1zM279,404h1v1h-1zM278,405h1v1h-1zM280,403h1v1h-1zM281,404h1v1h-1zM280,405h1v1h-1zM282,403h1v1h-1zM283,404h1v1h-1zM282,405h1v1h-1zM284,403h1v1h-1zM285,404h1v1h-1zM284,405h1v1h-1zM286,403h1v1h-1zM287,404h1v1h-1zM286,405h1v1h-1zM288,403h1v1h-1zM289,404h1v1h-1zM288,405h1v1h-1zM290,403h1v1h-1zM291,404h1v1h-1zM290,405h1v1h-1zM292,403h1v1h-1zM293,404h1v1h-1zM292,405h1v1h-1z" fill="#5fae45"/>
<rect x="292.73" y="403.52" width="7.26" height="2.8" fill="#e6b000"/>
<line x1="211.8" y1="321.82" x2="211.8" y2="411.22" stroke="#1a1a1a" stroke-width="1.3"/>
<line x1="211.2" y1="408.02" x2="341" y2="408.02" stroke="#1a1a1a" stroke-width="1.3"/>
<polyline points="211.8,400.42 220.1,400.42 249.56,400.42 294.18,400.42" fill="none" stroke="#a8062e" stroke-width="1.3" opacity="0.88"/>
<circle cx="211.8" cy="400.42" r="2.75" fill="none" stroke="#a8062e" stroke-width="1.15"/>
<circle cx="220.1" cy="400.42" r="3.0" fill="#a8062e"/>
<circle cx="249.56" cy="400.42" r="2.75" fill="none" stroke="#a8062e" stroke-width="1.15"/>
<circle cx="294.18" cy="400.42" r="3.0" fill="#a8062e"/>
<text x="447.9" y="316.02" class="t" text-anchor="middle" textLength="34.82" lengthAdjust="spacingAndGlyphs">UPN20</text>
<text transform="translate(360.3,364.92) rotate(-90)" class="pct" text-anchor="middle" textLength="6.9" lengthAdjust="spacingAndGlyphs">%</text>
<text x="447.8" y="437.12" class="m" text-anchor="middle" textLength="23" lengthAdjust="spacingAndGlyphs">Months</text>
<line x1="380.3" y1="400.42" x2="383.3" y2="400.42" stroke="#1a1a1a" stroke-width="1.1"/>
<text x="376.9" y="403.42" class="n" text-anchor="end">0</text>
<line x1="380.3" y1="381.6" x2="383.3" y2="381.6" stroke="#1a1a1a" stroke-width="1.1"/>
<text x="376.9" y="384.6" class="n" text-anchor="end" textLength="9.7" lengthAdjust="spacingAndGlyphs">10</text>
<line x1="380.3" y1="362.77" x2="383.3" y2="362.77" stroke="#1a1a1a" stroke-width="1.1"/>
<text x="376.9" y="365.77" class="n" text-anchor="end" textLength="10.3" lengthAdjust="spacingAndGlyphs">20</text>
<line x1="380.3" y1="343.94" x2="383.3" y2="343.94" stroke="#1a1a1a" stroke-width="1.1"/>
<text x="376.9" y="346.94" class="n" text-anchor="end" textLength="10.3" lengthAdjust="spacingAndGlyphs">30</text>
<line x1="380.3" y1="325.12" x2="383.3" y2="325.12" stroke="#1a1a1a" stroke-width="1.1"/>
<text x="376.9" y="328.12" class="n" text-anchor="end" textLength="10.3" lengthAdjust="spacingAndGlyphs">40</text>
<line x1="383.3" y1="408.02" x2="383.3" y2="411.22" stroke="#1a1a1a" stroke-width="1.1"/>
<text x="383.3" y="422.12" class="n" text-anchor="middle">0</text>
<line x1="424.57" y1="408.02" x2="424.57" y2="411.22" stroke="#1a1a1a" stroke-width="1.1"/>
<text x="424.57" y="422.12" class="n" text-anchor="middle" textLength="9.7" lengthAdjust="spacingAndGlyphs">10</text>
<line x1="465.84" y1="408.02" x2="465.84" y2="411.22" stroke="#1a1a1a" stroke-width="1.1"/>
<text x="465.84" y="422.12" class="n" text-anchor="middle" textLength="10.3" lengthAdjust="spacingAndGlyphs">20</text>
<line x1="507.11" y1="408.02" x2="507.11" y2="411.22" stroke="#1a1a1a" stroke-width="1.1"/>
<text x="507.11" y="422.12" class="n" text-anchor="middle" textLength="10.3" lengthAdjust="spacingAndGlyphs">30</text>
<rect x="384.2" y="403.52" width="15.61" height="2.8" fill="#d0d0d4"/>
<rect x="399.81" y="403.52" width="23.94" height="2.8" fill="#56a02c"/>
<line x1="383.3" y1="321.82" x2="383.3" y2="411.22" stroke="#1a1a1a" stroke-width="1.3"/>
<line x1="382.7" y1="408.02" x2="512.5" y2="408.02" stroke="#1a1a1a" stroke-width="1.3"/>
<polyline points="383.3,399.29" fill="none" stroke="#56a02c" stroke-width="1.3" opacity="0.88"/>
<polyline points="383.3,400.42 399.81,400.42 420.44,391.01 432.82,392.14" fill="none" stroke="#b9c98d" stroke-width="1.3" opacity="0.88"/>
<polyline points="383.3,400.42 399.81,400.42 420.44,396.66 432.82,400.42" fill="none" stroke="#4b2b7f" stroke-width="1.3" opacity="0.88"/>
<polyline points="383.3,395.34 399.81,395.34 420.44,400.42 432.82,391.95" fill="none" stroke="#a8062e" stroke-width="1.3" opacity="0.88"/>
<polyline points="383.3,376.32 399.81,363.71 420.44,359 432.82,377.27" fill="none" stroke="#23438c" stroke-width="1.3" opacity="0.88"/>
<rect x="381" y="396.99" width="4.6" height="4.6" fill="#56a02c"/>
<polygon points="383.3,397.82 385.9,400.42 383.3,403.02 380.7,400.42" fill="#b9c98d"/>
<polygon points="399.81,397.82 402.41,400.42 399.81,403.02 397.21,400.42" fill="#b9c98d"/>
<polygon points="420.44,388.41 423.04,391.01 420.44,393.61 417.84,391.01" fill="#b9c98d"/>
<polygon points="432.82,389.54 435.42,392.14 432.82,394.74 430.22,392.14" fill="#b9c98d"/>
<polygon points="380.4,402.6 386.2,402.6 383.3,397.67" fill="#4b2b7f"/>
<polygon points="396.91,402.6 402.71,402.6 399.81,397.67" fill="none" stroke="#4b2b7f" stroke-width="0.9"/>
<polygon points="417.54,398.83 423.34,398.83 420.44,393.9" fill="#4b2b7f"/>
<polygon points="429.92,402.6 435.72,402.6 432.82,397.67" fill="none" stroke="#4b2b7f" stroke-width="0.9"/>
<circle cx="383.3" cy="395.34" r="2.75" fill="none" stroke="#a8062e" stroke-width="1.15"/>
<circle cx="399.81" cy="395.34" r="3.0" fill="#a8062e"/>
<circle cx="420.44" cy="400.42" r="3.0" fill="#a8062e"/>
<circle cx="432.82" cy="391.95" r="2.75" fill="none" stroke="#a8062e" stroke-width="1.15"/>
<polygon points="380.1,373.76 386.5,373.76 383.3,379.52" fill="none" stroke="#23438c" stroke-width="0.9"/>
<polygon points="396.61,361.15 403.01,361.15 399.81,366.91" fill="#23438c"/>
<polygon points="417.24,356.44 423.64,356.44 420.44,362.2" fill="#23438c"/>
<polygon points="429.62,374.71 436.02,374.71 432.82,380.47" fill="none" stroke="#23438c" stroke-width="0.9"/>
<text x="451.6" y="373" class="l" text-anchor="middle" textLength="28.11" lengthAdjust="spacingAndGlyphs">PPM1D</text>
<text x="104.4" y="458.88" class="t" text-anchor="middle" textLength="34.82" lengthAdjust="spacingAndGlyphs">UPN21</text>
<text transform="translate(16.8,507.78) rotate(-90)" class="pct" text-anchor="middle" textLength="6.9" lengthAdjust="spacingAndGlyphs">%</text>
<text x="104.3" y="579.98" class="m" text-anchor="middle" textLength="23" lengthAdjust="spacingAndGlyphs">Months</text>
<line x1="36.8" y1="543.28" x2="39.8" y2="543.28" stroke="#1a1a1a" stroke-width="1.1"/>
<text x="33.4" y="546.28" class="n" text-anchor="end">0</text>
<line x1="36.8" y1="524.45" x2="39.8" y2="524.45" stroke="#1a1a1a" stroke-width="1.1"/>
<text x="33.4" y="527.45" class="n" text-anchor="end" textLength="9.7" lengthAdjust="spacingAndGlyphs">10</text>
<line x1="36.8" y1="505.63" x2="39.8" y2="505.63" stroke="#1a1a1a" stroke-width="1.1"/>
<text x="33.4" y="508.63" class="n" text-anchor="end" textLength="10.3" lengthAdjust="spacingAndGlyphs">20</text>
<line x1="36.8" y1="486.8" x2="39.8" y2="486.8" stroke="#1a1a1a" stroke-width="1.1"/>
<text x="33.4" y="489.8" class="n" text-anchor="end" textLength="10.3" lengthAdjust="spacingAndGlyphs">30</text>
<line x1="36.8" y1="467.98" x2="39.8" y2="467.98" stroke="#1a1a1a" stroke-width="1.1"/>
<text x="33.4" y="470.98" class="n" text-anchor="end" textLength="10.3" lengthAdjust="spacingAndGlyphs">40</text>
<line x1="39.8" y1="550.88" x2="39.8" y2="554.08" stroke="#1a1a1a" stroke-width="1.1"/>
<text x="39.8" y="564.98" class="n" text-anchor="middle">0</text>
<line x1="81.3" y1="550.88" x2="81.3" y2="554.08" stroke="#1a1a1a" stroke-width="1.1"/>
<text x="81.3" y="564.98" class="n" text-anchor="middle" textLength="10.3" lengthAdjust="spacingAndGlyphs">20</text>
<line x1="122.8" y1="550.88" x2="122.8" y2="554.08" stroke="#1a1a1a" stroke-width="1.1"/>
<text x="122.8" y="564.98" class="n" text-anchor="middle" textLength="10.3" lengthAdjust="spacingAndGlyphs">40</text>
<line x1="164.3" y1="550.88" x2="164.3" y2="554.08" stroke="#1a1a1a" stroke-width="1.1"/>
<text x="164.3" y="564.98" class="n" text-anchor="middle" textLength="10.3" lengthAdjust="spacingAndGlyphs">60</text>
<rect x="40.7" y="546.38" width="7.4" height="2.8" fill="#d0d0d4"/>
<rect x="48.1" y="546.38" width="12.04" height="2.8" fill="#56a02c"/>
<rect x="60.14" y="546" width="9.13" height="3" fill="#d4ebc9"/>
<path d="M60,546h1v1h-1zM61,547h1v1h-1zM60,548h1v1h-1zM62,546h1v1h-1zM63,547h1v1h-1zM62,548h1v1h-1zM64,546h1v1h-1zM65,547h1v1h-1zM64,548h1v1h-1zM66,546h1v1h-1zM67,547h1v1h-1zM66,548h1v1h-1zM68,546h1v1h-1zM69,547h1v1h-1zM68,548h1v1h-1z" fill="#5fae45"/>
<rect x="69.27" y="546.38" width="32.79" height="2.8" fill="#e6b000"/>
<rect x="102.05" y="546" width="13.49" height="3" fill="#f8e7b0"/>
<path d="M102,546h1v1h-1zM103,547h1v1h-1zM102,548h1v1h-1zM104,546h1v1h-1zM105,547h1v1h-1zM104,548h1v1h-1zM106,546h1v1h-1zM107,547h1v1h-1zM106,548h1v1h-1zM108,546h1v1h-1zM109,547h1v1h-1zM108,548h1v1h-1zM110,546h1v1h-1zM111,547h1v1h-1zM110,548h1v1h-1zM112,546h1v1h-1zM113,547h1v1h-1zM112,548h1v1h-1zM114,546h1v1h-1zM115,547h1v1h-1zM114,548h1v1h-1z" fill="#e8b10a"/>
<line x1="39.8" y1="464.68" x2="39.8" y2="554.08" stroke="#1a1a1a" stroke-width="1.3"/>
<line x1="39.2" y1="550.88" x2="169" y2="550.88" stroke="#1a1a1a" stroke-width="1.3"/>
<polyline points="39.8,543.28 48.1,543.28 58.47,528.03 110.35,508.64" fill="none" stroke="#23438c" stroke-width="1.3" opacity="0.88"/>
<polyline points="39.8,543.28 48.1,543.28 58.47,543.28 110.35,533.68" fill="none" stroke="#a8062e" stroke-width="1.3" opacity="0.88"/>
<polygon points="36.6,540.72 43,540.72 39.8,546.48" fill="none" stroke="#23438c" stroke-width="0.9"/>
<polygon points="44.9,540.72 51.3,540.72 48.1,546.48" fill="none" stroke="#23438c" stroke-width="0.9"/>
<polygon points="55.27,525.47 61.67,525.47 58.47,531.23" fill="#23438c"/>
<polygon points="107.15,506.08 113.55,506.08 110.35,511.84" fill="#23438c"/>
<circle cx="39.8" cy="543.28" r="2.75" fill="none" stroke="#a8062e" stroke-width="1.15"/>
<circle cx="48.1" cy="543.28" r="3.0" fill="#a8062e"/>
<circle cx="58.47" cy="543.28" r="3.0" fill="#a8062e"/>
<circle cx="110.35" cy="533.68" r="2.75" fill="none" stroke="#a8062e" stroke-width="1.15"/>
<text x="116.5" y="510.2" class="l" text-anchor="start" textLength="23.15" lengthAdjust="spacingAndGlyphs">ASXL1</text>
<text x="116.5" y="534.9" class="l" text-anchor="start" textLength="33.1" lengthAdjust="spacingAndGlyphs">DNMT3A</text>
<text x="276.4" y="458.88" class="t" text-anchor="middle" textLength="34.82" lengthAdjust="spacingAndGlyphs">UPN24</text>
<text transform="translate(188.8,507.78) rotate(-90)" class="pct" text-anchor="middle" textLength="6.9" lengthAdjust="spacingAndGlyphs">%</text>
<text x="276.3" y="579.98" class="m" text-anchor="middle" textLength="23" lengthAdjust="spacingAndGlyphs">Months</text>
<line x1="208.8" y1="543.28" x2="211.8" y2="543.28" stroke="#1a1a1a" stroke-width="1.1"/>
<text x="205.4" y="546.28" class="n" text-anchor="end">0</text>
<line x1="208.8" y1="524.45" x2="211.8" y2="524.45" stroke="#1a1a1a" stroke-width="1.1"/>
<text x="205.4" y="527.45" class="n" text-anchor="end" textLength="9.7" lengthAdjust="spacingAndGlyphs">10</text>
<line x1="208.8" y1="505.63" x2="211.8" y2="505.63" stroke="#1a1a1a" stroke-width="1.1"/>
<text x="205.4" y="508.63" class="n" text-anchor="end" textLength="10.3" lengthAdjust="spacingAndGlyphs">20</text>
<line x1="208.8" y1="486.8" x2="211.8" y2="486.8" stroke="#1a1a1a" stroke-width="1.1"/>
<text x="205.4" y="489.8" class="n" text-anchor="end" textLength="10.3" lengthAdjust="spacingAndGlyphs">30</text>
<line x1="208.8" y1="467.98" x2="211.8" y2="467.98" stroke="#1a1a1a" stroke-width="1.1"/>
<text x="205.4" y="470.98" class="n" text-anchor="end" textLength="10.3" lengthAdjust="spacingAndGlyphs">40</text>
<line x1="211.8" y1="550.88" x2="211.8" y2="554.08" stroke="#1a1a1a" stroke-width="1.1"/>
<text x="211.8" y="564.98" class="n" text-anchor="middle">0</text>
<line x1="253.07" y1="550.88" x2="253.07" y2="554.08" stroke="#1a1a1a" stroke-width="1.1"/>
<text x="253.07" y="564.98" class="n" text-anchor="middle" textLength="9.7" lengthAdjust="spacingAndGlyphs">10</text>
<line x1="294.34" y1="550.88" x2="294.34" y2="554.08" stroke="#1a1a1a" stroke-width="1.1"/>
<text x="294.34" y="564.98" class="n" text-anchor="middle" textLength="10.3" lengthAdjust="spacingAndGlyphs">20</text>
<line x1="335.61" y1="550.88" x2="335.61" y2="554.08" stroke="#1a1a1a" stroke-width="1.1"/>
<text x="335.61" y="564.98" class="n" text-anchor="middle" textLength="10.3" lengthAdjust="spacingAndGlyphs">30</text>
<rect x="212.7" y="546.38" width="15.61" height="2.8" fill="#d0d0d4"/>
<rect x="228.31" y="546.38" width="53.24" height="2.8" fill="#56a02c"/>
<rect x="281.55" y="546" width="11.97" height="3" fill="#d4ebc9"/>
<path d="M282,546h1v1h-1zM283,547h1v1h-1zM282,548h1v1h-1zM284,546h1v1h-1zM285,547h1v1h-1zM284,548h1v1h-1zM286,546h1v1h-1zM287,547h1v1h-1zM286,548h1v1h-1zM288,546h1v1h-1zM289,547h1v1h-1zM288,548h1v1h-1zM290,546h1v1h-1zM291,547h1v1h-1zM290,548h1v1h-1zM292,546h1v1h-1zM293,547h1v1h-1zM292,548h1v1h-1z" fill="#5fae45"/>
<line x1="211.8" y1="464.68" x2="211.8" y2="554.08" stroke="#1a1a1a" stroke-width="1.3"/>
<line x1="211.2" y1="550.88" x2="341" y2="550.88" stroke="#1a1a1a" stroke-width="1.3"/>
<polyline points="211.8,543.28 228.31,534.06 273.7,536.5 290.21,533.68" fill="none" stroke="#a8062e" stroke-width="1.3" opacity="0.88"/>
<circle cx="211.8" cy="543.28" r="2.75" fill="none" stroke="#a8062e" stroke-width="1.15"/>
<circle cx="228.31" cy="534.06" r="3.0" fill="#a8062e"/>
<circle cx="273.7" cy="536.5" r="3.0" fill="#a8062e"/>
<circle cx="290.21" cy="533.68" r="2.75" fill="none" stroke="#a8062e" stroke-width="1.15"/>
<text x="298.8" y="534.6" class="l" text-anchor="start" textLength="33.1" lengthAdjust="spacingAndGlyphs">DNMT3A</text>
<text x="447.9" y="458.88" class="t" text-anchor="middle" textLength="34.82" lengthAdjust="spacingAndGlyphs">UPN25</text>
<text transform="translate(360.3,507.78) rotate(-90)" class="pct" text-anchor="middle" textLength="6.9" lengthAdjust="spacingAndGlyphs">%</text>
<text x="447.8" y="579.98" class="m" text-anchor="middle" textLength="23" lengthAdjust="spacingAndGlyphs">Months</text>
<line x1="380.3" y1="543.28" x2="383.3" y2="543.28" stroke="#1a1a1a" stroke-width="1.1"/>
<text x="376.9" y="546.28" class="n" text-anchor="end">0</text>
<line x1="380.3" y1="524.45" x2="383.3" y2="524.45" stroke="#1a1a1a" stroke-width="1.1"/>
<text x="376.9" y="527.45" class="n" text-anchor="end" textLength="9.7" lengthAdjust="spacingAndGlyphs">10</text>
<line x1="380.3" y1="505.63" x2="383.3" y2="505.63" stroke="#1a1a1a" stroke-width="1.1"/>
<text x="376.9" y="508.63" class="n" text-anchor="end" textLength="10.3" lengthAdjust="spacingAndGlyphs">20</text>
<line x1="380.3" y1="486.8" x2="383.3" y2="486.8" stroke="#1a1a1a" stroke-width="1.1"/>
<text x="376.9" y="489.8" class="n" text-anchor="end" textLength="10.3" lengthAdjust="spacingAndGlyphs">30</text>
<line x1="380.3" y1="467.98" x2="383.3" y2="467.98" stroke="#1a1a1a" stroke-width="1.1"/>
<text x="376.9" y="470.98" class="n" text-anchor="end" textLength="10.3" lengthAdjust="spacingAndGlyphs">40</text>
<line x1="383.3" y1="550.88" x2="383.3" y2="554.08" stroke="#1a1a1a" stroke-width="1.1"/>
<text x="383.3" y="564.98" class="n" text-anchor="middle">0</text>
<line x1="424.57" y1="550.88" x2="424.57" y2="554.08" stroke="#1a1a1a" stroke-width="1.1"/>
<text x="424.57" y="564.98" class="n" text-anchor="middle" textLength="9.7" lengthAdjust="spacingAndGlyphs">10</text>
<line x1="465.84" y1="550.88" x2="465.84" y2="554.08" stroke="#1a1a1a" stroke-width="1.1"/>
<text x="465.84" y="564.98" class="n" text-anchor="middle" textLength="10.3" lengthAdjust="spacingAndGlyphs">20</text>
<line x1="507.11" y1="550.88" x2="507.11" y2="554.08" stroke="#1a1a1a" stroke-width="1.1"/>
<text x="507.11" y="564.98" class="n" text-anchor="middle" textLength="10.3" lengthAdjust="spacingAndGlyphs">30</text>
<rect x="384.2" y="546.38" width="15.61" height="2.8" fill="#d0d0d4"/>
<rect x="399.81" y="546.38" width="41.27" height="2.8" fill="#56a02c"/>
<rect x="441.08" y="546" width="24.76" height="3" fill="#d4ebc9"/>
<path d="M441,546h1v1h-1zM442,547h1v1h-1zM441,548h1v1h-1zM443,546h1v1h-1zM444,547h1v1h-1zM443,548h1v1h-1zM445,546h1v1h-1zM446,547h1v1h-1zM445,548h1v1h-1zM447,546h1v1h-1zM448,547h1v1h-1zM447,548h1v1h-1zM449,546h1v1h-1zM450,547h1v1h-1zM449,548h1v1h-1zM451,546h1v1h-1zM452,547h1v1h-1zM451,548h1v1h-1zM453,546h1v1h-1zM454,547h1v1h-1zM453,548h1v1h-1zM455,546h1v1h-1zM456,547h1v1h-1zM455,548h1v1h-1zM457,546h1v1h-1zM458,547h1v1h-1zM457,548h1v1h-1zM459,546h1v1h-1zM460,547h1v1h-1zM459,548h1v1h-1zM461,546h1v1h-1zM462,547h1v1h-1zM461,548h1v1h-1zM463,546h1v1h-1zM464,547h1v1h-1zM463,548h1v1h-1zM465,546h1v1h-1zM466,547h1v1h-1zM465,548h1v1h-1z" fill="#5fae45"/>
<rect x="465.84" y="546.38" width="23.94" height="2.8" fill="#e6b000"/>
<line x1="383.3" y1="464.68" x2="383.3" y2="554.08" stroke="#1a1a1a" stroke-width="1.3"/>
<line x1="382.7" y1="550.88" x2="512.5" y2="550.88" stroke="#1a1a1a" stroke-width="1.3"/>
<polyline points="383.3,543.28 399.81,543.28 479.87,543.28" fill="none" stroke="#a8062e" stroke-width="1.3" opacity="0.88"/>
<circle cx="383.3" cy="543.28" r="2.75" fill="none" stroke="#a8062e" stroke-width="1.15"/>
<circle cx="399.81" cy="543.28" r="3.0" fill="#a8062e"/>
<circle cx="479.87" cy="543.28" r="3.0" fill="#a8062e"/>
<text x="104.4" y="601.74" class="t" text-anchor="middle" textLength="34.82" lengthAdjust="spacingAndGlyphs">UPN26</text>
<text transform="translate(16.8,650.64) rotate(-90)" class="pct" text-anchor="middle" textLength="6.9" lengthAdjust="spacingAndGlyphs">%</text>
<text x="104.3" y="722.84" class="m" text-anchor="middle" textLength="23" lengthAdjust="spacingAndGlyphs">Months</text>
<line x1="36.8" y1="686.14" x2="39.8" y2="686.14" stroke="#1a1a1a" stroke-width="1.1"/>
<text x="33.4" y="689.14" class="n" text-anchor="end">0</text>
<line x1="36.8" y1="667.31" x2="39.8" y2="667.31" stroke="#1a1a1a" stroke-width="1.1"/>
<text x="33.4" y="670.31" class="n" text-anchor="end" textLength="9.7" lengthAdjust="spacingAndGlyphs">10</text>
<line x1="36.8" y1="648.49" x2="39.8" y2="648.49" stroke="#1a1a1a" stroke-width="1.1"/>
<text x="33.4" y="651.49" class="n" text-anchor="end" textLength="10.3" lengthAdjust="spacingAndGlyphs">20</text>
<line x1="36.8" y1="629.66" x2="39.8" y2="629.66" stroke="#1a1a1a" stroke-width="1.1"/>
<text x="33.4" y="632.66" class="n" text-anchor="end" textLength="10.3" lengthAdjust="spacingAndGlyphs">30</text>
<line x1="36.8" y1="610.84" x2="39.8" y2="610.84" stroke="#1a1a1a" stroke-width="1.1"/>
<text x="33.4" y="613.84" class="n" text-anchor="end" textLength="10.3" lengthAdjust="spacingAndGlyphs">40</text>
<line x1="39.8" y1="693.74" x2="39.8" y2="696.94" stroke="#1a1a1a" stroke-width="1.1"/>
<text x="39.8" y="707.84" class="n" text-anchor="middle">0</text>
<line x1="81.07" y1="693.74" x2="81.07" y2="696.94" stroke="#1a1a1a" stroke-width="1.1"/>
<text x="81.07" y="707.84" class="n" text-anchor="middle" textLength="9.7" lengthAdjust="spacingAndGlyphs">10</text>
<line x1="122.34" y1="693.74" x2="122.34" y2="696.94" stroke="#1a1a1a" stroke-width="1.1"/>
<text x="122.34" y="707.84" class="n" text-anchor="middle" textLength="10.3" lengthAdjust="spacingAndGlyphs">20</text>
<line x1="163.61" y1="693.74" x2="163.61" y2="696.94" stroke="#1a1a1a" stroke-width="1.1"/>
<text x="163.61" y="707.84" class="n" text-anchor="middle" textLength="10.3" lengthAdjust="spacingAndGlyphs">30</text>
<rect x="40.7" y="689.24" width="15.61" height="2.8" fill="#d0d0d4"/>
<rect x="56.31" y="689.24" width="2.06" height="2.8" fill="#56a02c"/>
<rect x="58.37" y="689" width="9.49" height="3" fill="#d4ebc9"/>
<path d="M58,689h1v1h-1zM59,690h1v1h-1zM58,691h1v1h-1zM60,689h1v1h-1zM61,690h1v1h-1zM60,691h1v1h-1zM62,689h1v1h-1zM63,690h1v1h-1zM62,691h1v1h-1zM64,689h1v1h-1zM65,690h1v1h-1zM64,691h1v1h-1zM66,689h1v1h-1zM67,690h1v1h-1zM66,691h1v1h-1z" fill="#5fae45"/>
<rect x="67.86" y="689.24" width="42.1" height="2.8" fill="#e6b000"/>
<rect x="109.96" y="689" width="15.68" height="3" fill="#f8e7b0"/>
<path d="M110,689h1v1h-1zM111,690h1v1h-1zM110,691h1v1h-1zM112,689h1v1h-1zM113,690h1v1h-1zM112,691h1v1h-1zM114,689h1v1h-1zM115,690h1v1h-1zM114,691h1v1h-1zM116,689h1v1h-1zM117,690h1v1h-1zM116,691h1v1h-1zM118,689h1v1h-1zM119,690h1v1h-1zM118,691h1v1h-1zM120,689h1v1h-1zM121,690h1v1h-1zM120,691h1v1h-1zM122,689h1v1h-1zM123,690h1v1h-1zM122,691h1v1h-1zM124,689h1v1h-1zM125,690h1v1h-1zM124,691h1v1h-1z" fill="#e8b10a"/>
<line x1="39.8" y1="607.54" x2="39.8" y2="696.94" stroke="#1a1a1a" stroke-width="1.3"/>
<line x1="39.2" y1="693.74" x2="169" y2="693.74" stroke="#1a1a1a" stroke-width="1.3"/>
<polyline points="39.8,686.14 56.31,686.14 68.69,686.14 101.7,686.14 126.47,686.14" fill="none" stroke="#a8062e" stroke-width="1.3" opacity="0.88"/>
<circle cx="39.8" cy="686.14" r="2.75" fill="none" stroke="#a8062e" stroke-width="1.15"/>
<circle cx="56.31" cy="686.14" r="3.0" fill="#a8062e"/>
<circle cx="68.69" cy="686.14" r="2.75" fill="none" stroke="#a8062e" stroke-width="1.15"/>
<circle cx="101.7" cy="686.14" r="3.0" fill="#a8062e"/>
<circle cx="126.47" cy="686.14" r="2.75" fill="none" stroke="#a8062e" stroke-width="1.15"/>
<text x="276.4" y="601.74" class="t" text-anchor="middle" textLength="34.82" lengthAdjust="spacingAndGlyphs">UPN30</text>
<text transform="translate(188.8,650.64) rotate(-90)" class="pct" text-anchor="middle" textLength="6.9" lengthAdjust="spacingAndGlyphs">%</text>
<text x="276.3" y="722.84" class="m" text-anchor="middle" textLength="23" lengthAdjust="spacingAndGlyphs">Months</text>
<line x1="208.8" y1="686.14" x2="211.8" y2="686.14" stroke="#1a1a1a" stroke-width="1.1"/>
<text x="205.4" y="689.14" class="n" text-anchor="end">0</text>
<line x1="208.8" y1="667.31" x2="211.8" y2="667.31" stroke="#1a1a1a" stroke-width="1.1"/>
<text x="205.4" y="670.31" class="n" text-anchor="end" textLength="9.7" lengthAdjust="spacingAndGlyphs">10</text>
<line x1="208.8" y1="648.49" x2="211.8" y2="648.49" stroke="#1a1a1a" stroke-width="1.1"/>
<text x="205.4" y="651.49" class="n" text-anchor="end" textLength="10.3" lengthAdjust="spacingAndGlyphs">20</text>
<line x1="208.8" y1="629.66" x2="211.8" y2="629.66" stroke="#1a1a1a" stroke-width="1.1"/>
<text x="205.4" y="632.66" class="n" text-anchor="end" textLength="10.3" lengthAdjust="spacingAndGlyphs">30</text>
<line x1="208.8" y1="610.84" x2="211.8" y2="610.84" stroke="#1a1a1a" stroke-width="1.1"/>
<text x="205.4" y="613.84" class="n" text-anchor="end" textLength="10.3" lengthAdjust="spacingAndGlyphs">40</text>
<line x1="211.8" y1="693.74" x2="211.8" y2="696.94" stroke="#1a1a1a" stroke-width="1.1"/>
<text x="211.8" y="707.84" class="n" text-anchor="middle">0</text>
<line x1="253.07" y1="693.74" x2="253.07" y2="696.94" stroke="#1a1a1a" stroke-width="1.1"/>
<text x="253.07" y="707.84" class="n" text-anchor="middle" textLength="9.7" lengthAdjust="spacingAndGlyphs">10</text>
<line x1="294.34" y1="693.74" x2="294.34" y2="696.94" stroke="#1a1a1a" stroke-width="1.1"/>
<text x="294.34" y="707.84" class="n" text-anchor="middle" textLength="10.3" lengthAdjust="spacingAndGlyphs">20</text>
<line x1="335.61" y1="693.74" x2="335.61" y2="696.94" stroke="#1a1a1a" stroke-width="1.1"/>
<text x="335.61" y="707.84" class="n" text-anchor="middle" textLength="10.3" lengthAdjust="spacingAndGlyphs">30</text>
<rect x="212.7" y="689.24" width="15.61" height="2.8" fill="#d0d0d4"/>
<rect x="228.31" y="689.24" width="51.17" height="2.8" fill="#56a02c"/>
<line x1="211.8" y1="607.54" x2="211.8" y2="696.94" stroke="#1a1a1a" stroke-width="1.3"/>
<line x1="211.2" y1="693.74" x2="341" y2="693.74" stroke="#1a1a1a" stroke-width="1.3"/>
<polyline points="211.8,686.14 228.31,686.14 253.07,686.14 277.83,678.42" fill="none" stroke="#a8062e" stroke-width="1.3" opacity="0.88"/>
<circle cx="211.8" cy="686.14" r="2.75" fill="none" stroke="#a8062e" stroke-width="1.15"/>
<circle cx="228.31" cy="686.14" r="3.0" fill="#a8062e"/>
<circle cx="253.07" cy="686.14" r="3.0" fill="#a8062e"/>
<circle cx="277.83" cy="678.42" r="3.0" fill="#a8062e"/>
<text x="282.7" y="679.4" class="l" text-anchor="start" textLength="18.3" lengthAdjust="spacingAndGlyphs">TP53</text>
<text x="447.9" y="601.74" class="t" text-anchor="middle" textLength="34.82" lengthAdjust="spacingAndGlyphs">UPN33</text>
<text transform="translate(360.3,650.64) rotate(-90)" class="pct" text-anchor="middle" textLength="6.9" lengthAdjust="spacingAndGlyphs">%</text>
<text x="447.8" y="722.84" class="m" text-anchor="middle" textLength="23" lengthAdjust="spacingAndGlyphs">Months</text>
<line x1="380.3" y1="686.14" x2="383.3" y2="686.14" stroke="#1a1a1a" stroke-width="1.1"/>
<text x="376.9" y="689.14" class="n" text-anchor="end">0</text>
<line x1="380.3" y1="667.31" x2="383.3" y2="667.31" stroke="#1a1a1a" stroke-width="1.1"/>
<text x="376.9" y="670.31" class="n" text-anchor="end" textLength="9.7" lengthAdjust="spacingAndGlyphs">10</text>
<line x1="380.3" y1="648.49" x2="383.3" y2="648.49" stroke="#1a1a1a" stroke-width="1.1"/>
<text x="376.9" y="651.49" class="n" text-anchor="end" textLength="10.3" lengthAdjust="spacingAndGlyphs">20</text>
<line x1="380.3" y1="629.66" x2="383.3" y2="629.66" stroke="#1a1a1a" stroke-width="1.1"/>
<text x="376.9" y="632.66" class="n" text-anchor="end" textLength="10.3" lengthAdjust="spacingAndGlyphs">30</text>
<line x1="380.3" y1="610.84" x2="383.3" y2="610.84" stroke="#1a1a1a" stroke-width="1.1"/>
<text x="376.9" y="613.84" class="n" text-anchor="end" textLength="10.3" lengthAdjust="spacingAndGlyphs">40</text>
<line x1="383.3" y1="693.74" x2="383.3" y2="696.94" stroke="#1a1a1a" stroke-width="1.1"/>
<text x="383.3" y="707.84" class="n" text-anchor="middle">0</text>
<line x1="424.57" y1="693.74" x2="424.57" y2="696.94" stroke="#1a1a1a" stroke-width="1.1"/>
<text x="424.57" y="707.84" class="n" text-anchor="middle" textLength="9.7" lengthAdjust="spacingAndGlyphs">10</text>
<line x1="465.84" y1="693.74" x2="465.84" y2="696.94" stroke="#1a1a1a" stroke-width="1.1"/>
<text x="465.84" y="707.84" class="n" text-anchor="middle" textLength="10.3" lengthAdjust="spacingAndGlyphs">20</text>
<line x1="507.11" y1="693.74" x2="507.11" y2="696.94" stroke="#1a1a1a" stroke-width="1.1"/>
<text x="507.11" y="707.84" class="n" text-anchor="middle" textLength="10.3" lengthAdjust="spacingAndGlyphs">30</text>
<rect x="384.2" y="689.24" width="15.61" height="2.8" fill="#d0d0d4"/>
<rect x="399.81" y="689" width="20.63" height="3" fill="#d4ebc9"/>
<path d="M400,689h1v1h-1zM401,690h1v1h-1zM400,691h1v1h-1zM402,689h1v1h-1zM403,690h1v1h-1zM402,691h1v1h-1zM404,689h1v1h-1zM405,690h1v1h-1zM404,691h1v1h-1zM406,689h1v1h-1zM407,690h1v1h-1zM406,691h1v1h-1zM408,689h1v1h-1zM409,690h1v1h-1zM408,691h1v1h-1zM410,689h1v1h-1zM411,690h1v1h-1zM410,691h1v1h-1zM412,689h1v1h-1zM413,690h1v1h-1zM412,691h1v1h-1zM414,689h1v1h-1zM415,690h1v1h-1zM414,691h1v1h-1zM416,689h1v1h-1zM417,690h1v1h-1zM416,691h1v1h-1zM418,689h1v1h-1zM419,690h1v1h-1zM418,691h1v1h-1z" fill="#5fae45"/>
<line x1="383.3" y1="607.54" x2="383.3" y2="696.94" stroke="#1a1a1a" stroke-width="1.3"/>
<line x1="382.7" y1="693.74" x2="512.5" y2="693.74" stroke="#1a1a1a" stroke-width="1.3"/>
<polyline points="383.3,686.14 399.81,686.14 420.44,686.14" fill="none" stroke="#a8062e" stroke-width="1.3" opacity="0.88"/>
<circle cx="383.3" cy="686.14" r="2.75" fill="none" stroke="#a8062e" stroke-width="1.15"/>
<circle cx="399.81" cy="686.14" r="3.0" fill="#a8062e"/>
<circle cx="420.44" cy="686.14" r="2.75" fill="none" stroke="#a8062e" stroke-width="1.15"/>
<circle cx="472" cy="364.9" r="2.6" fill="#a8062e"/>
<polygon points="469.4,378 474.6,378 472,373.2" fill="#4b2b7f"/>
<polygon points="472,383.6 474.5,386.1 472,388.6 469.5,386.1" fill="#b9c98d"/>
<rect x="469.6" y="394.1" width="4.8" height="4.8" fill="#56a02c"/>
<text x="478.1" y="368.1" class="l" text-anchor="start" textLength="18.3" lengthAdjust="spacingAndGlyphs">TP53</text>
<text x="478.1" y="379" class="l" text-anchor="start" textLength="23.15" lengthAdjust="spacingAndGlyphs">ASXL1</text>
<text x="478.1" y="389.3" class="l" text-anchor="start" textLength="24.79" lengthAdjust="spacingAndGlyphs">BCOR</text>
<text x="478.1" y="399.7" class="l" text-anchor="start" textLength="33.63" lengthAdjust="spacingAndGlyphs">BCORL1</text>
</svg>
</body></html>
